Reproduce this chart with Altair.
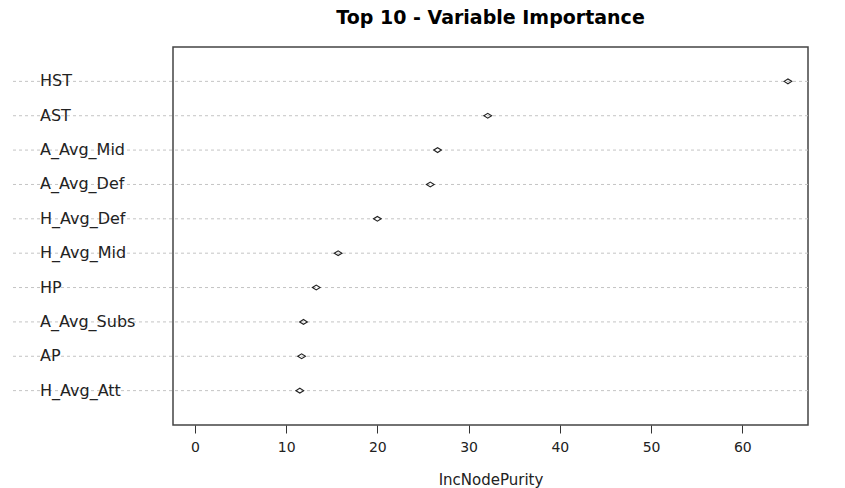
import altair as alt
import pandas as pd

variables = ["HST", "AST", "A_Avg_Mid", "A_Avg_Def", "H_Avg_Def",
             "H_Avg_Mid", "HP", "A_Avg_Subs", "AP", "H_Avg_Att"]
importance = [65.0, 32.1, 26.6, 25.8, 20.0, 15.7, 13.3, 11.9, 11.7, 11.5]

df = pd.DataFrame({"var": variables, "imp": importance})

W, H = 635, 378
FONT = "DejaVu Sans"

yenc = alt.Y("var:N", sort=variables,
             scale=alt.Scale(type="point", padding=1), axis=None)

base = alt.Chart(df)

grid = base.mark_rule(color="#c4c4c4", strokeDash=[3, 3], strokeWidth=1).encode(
    x=alt.value(-160), x2=alt.value(W), y=yenc
)

labels = base.mark_text(align="left", baseline="middle", font=FONT,
                        fontSize=16, color="#222").encode(
    x=alt.value(-133), y=yenc, text="var:N"
)

points = base.mark_point(shape="M-1,0L0,-0.62L1,0L0,0.62Z", filled=False,
                         color="#222", size=60, strokeWidth=1.1, opacity=1).encode(
    x=alt.X("imp:Q",
            scale=alt.Scale(domain=[-2.4, 67.2], nice=False, zero=False),
            axis=alt.Axis(title="IncNodePurity", values=[0, 10, 20, 30, 40, 50, 60],
                          grid=False, domain=False, tickSize=8, tickColor="#333",
                          labelFont=FONT, labelFontSize=14, labelColor="#222",
                          labelPadding=7, titleFont=FONT, titleFontSize=15,
                          titleFontWeight="normal", titleColor="#222",
                          titlePadding=18)),
    y=yenc
)

chart = alt.layer(grid, labels, points).properties(
    width=W, height=H,
    title=alt.TitleParams("Top 10 - Variable Importance", font=FONT, fontSize=19,
                          fontWeight="bold", color="#000", anchor="middle", offset=19),
    autosize=alt.AutoSizeParams(type="none"),
    padding={"left": 173, "top": 47, "right": 37, "bottom": 63},
).configure(background="white").configure_view(stroke="#444", strokeWidth=1.5)

chart.save("out.html", embed_options={"renderer": "svg", "actions": False})
